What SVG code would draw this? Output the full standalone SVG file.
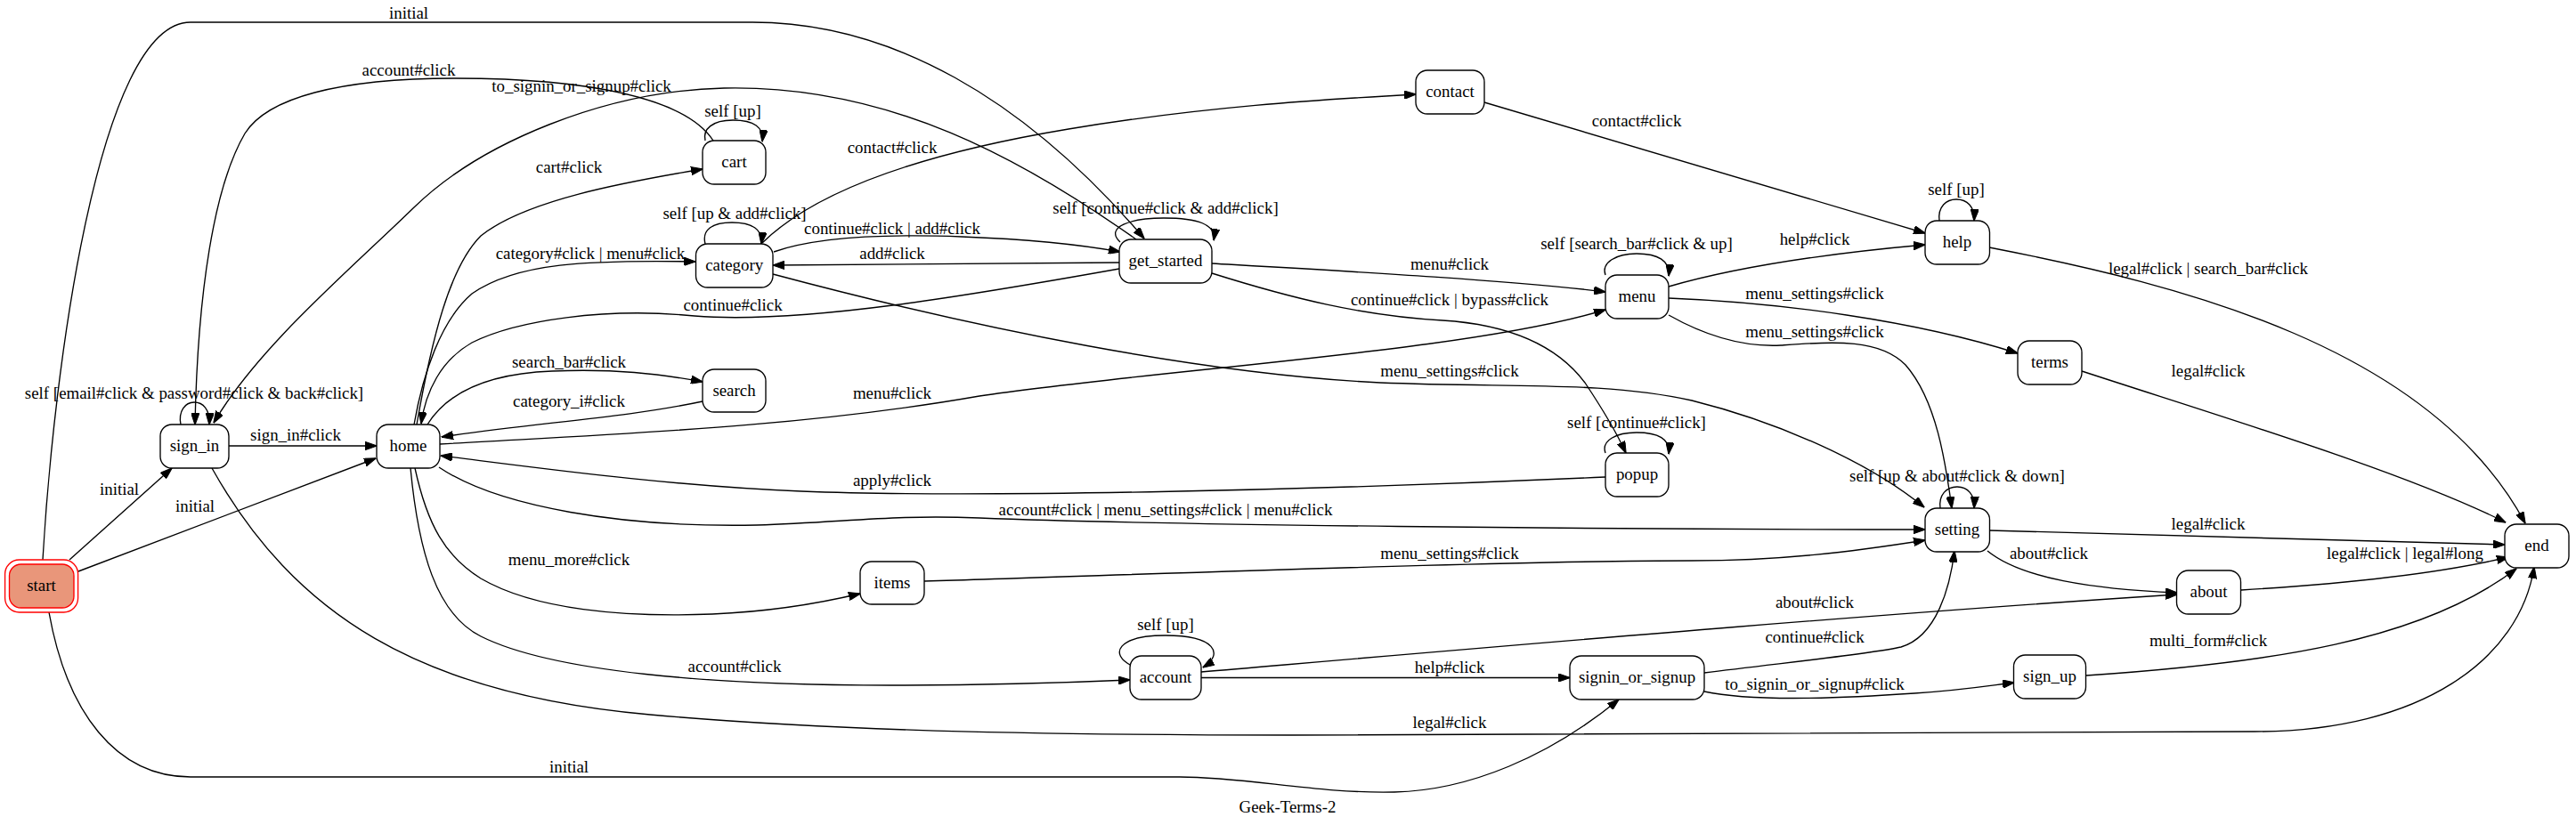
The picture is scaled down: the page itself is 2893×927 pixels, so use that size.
<svg xmlns="http://www.w3.org/2000/svg" width="2893" height="927" viewBox="0 0 2893 927">
<style>
text{font-family:"Liberation Serif","Times New Roman",serif;font-size:18.9px;text-anchor:middle;fill:#000}
.e{fill:none;stroke:#000;stroke-width:1.35;marker-end:url(#arr)}
.n{fill:#fff;stroke:#000;stroke-width:1.35}
</style>
<defs>
<marker id="arr" viewBox="0 0 13.5 9.4" refX="13" refY="4.7" markerWidth="13.5" markerHeight="9.4" markerUnits="userSpaceOnUse" orient="auto">
<path d="M0,0 L13.5,4.7 L0,9.4 z" fill="#000" stroke="#000" stroke-width="1"/>
</marker>
</defs>
<rect width="2893" height="927" fill="#fff"/>
<g id="connectors">
<g><path class="e" d="M78,629 L193,526"/><text x="134" y="556">initial</text></g>
<g><path class="e" d="M88,642 L422,515"/><text x="219" y="575">initial</text></g>
<g><path class="e" d="M48,629 C60,420 110,25 214,25 L845,25 C1000,25 1150,110 1285,268"/><text x="459" y="21">initial</text></g>
<g><path class="e" d="M55,688 C75,800 130,873 214,873 L1325,873 C1400,873 1480,892 1566,890 C1650,888 1740,850 1818,786"/><text x="639" y="868">initial</text></g>
<g><path class="e" d="M203,477 C200,462 208,452 218,452 C228,452 236,460 235,477"/><text x="218" y="448">self [email#click &amp; password#click &amp; back#click]</text></g>
<g><path class="e" d="M257,501 L423,501"/><text x="332" y="495">sign_in#click</text></g>
<g><path class="e" d="M238,526 C330,690 470,780 730,803 C900,818 1100,826 1450,826 L2532,822 C2720,822 2830,740 2846,637"/><text x="1628" y="818">legal#click</text></g>
<g><path class="e" d="M801,158 C770,110 660,88 512,88 C380,88 300,110 275,150 C240,210 222,330 219,477"/><text x="459" y="85">account#click</text></g>
<g><path class="e" d="M1276,269 C1150,180 1000,95 813,99 C680,102 540,160 465,233 C390,306 290,390 240,475"/><text x="653" y="103">to_signin_or_signup#click</text></g>
<g><path class="e" d="M468,477 C485,380 505,300 540,265 C590,225 700,205 789,190"/><text x="639" y="194">cart#click</text></g>
<g><path class="e" d="M465,477 C475,420 495,360 530,330 C580,295 660,292 781,294"/><text x="663" y="291">category#click | menu#click</text></g>
<g><path class="e" d="M1257,302 C1100,330 900,365 780,355 C680,345 580,360 530,385 C495,405 478,440 473,476"/><text x="823" y="349">continue#click</text></g>
<g><path class="e" d="M480,477 C500,445 540,420 620,417 C690,414 740,420 789,429"/><text x="639" y="413">search_bar#click</text></g>
<g><path class="e" d="M789,451 C700,470 600,475 496,491"/><text x="639" y="457">category_i#click</text></g>
<g><path class="e" d="M494,499 C700,487 900,480 1100,445 C1300,415 1650,395 1803,348"/><text x="1002" y="448">menu#click</text></g>
<g><path class="e" d="M1803,536 C1500,550 1100,560 900,552 C750,546 600,525 495,512"/><text x="1002" y="546">apply#click</text></g>
<g><path class="e" d="M493,525 C560,570 700,593 850,590 C950,587 1000,578 1100,582 C1300,590 1800,595 2162,595"/><text x="1309" y="579">account#click | menu_settings#click | menu#click</text></g>
<g><path class="e" d="M466,526 C480,590 500,625 540,650 C600,685 700,694 800,690 C870,687 920,678 966,667"/><text x="639" y="635">menu_more#click</text></g>
<g><path class="e" d="M461,526 C470,620 490,690 540,715 C620,755 800,770 1000,770 C1120,770 1200,767 1269,764"/><text x="825" y="755">account#click</text></g>
<g><path class="e" d="M792,274 C788,258 800,250 822,250 C845,250 857,258 855,274"/><text x="825" y="246">self [up &amp; add#click]</text></g>
<g><path class="e" d="M856,273 C920,210 1050,170 1200,145 C1350,120 1480,112 1590,106"/><text x="1002" y="172">contact#click</text></g>
<g><path class="e" d="M869,283 C920,265 1000,263 1080,266 C1160,269 1220,276 1258,283"/><text x="1002" y="263">continue#click | add#click</text></g>
<g><path class="e" d="M1257,295 L868,298"/><text x="1002" y="291">add#click</text></g>
<g><path class="e" d="M868,308 C1100,370 1350,420 1550,430 C1700,436 1800,428 1900,450 C2000,475 2100,520 2161,570"/><text x="1628" y="423">menu_settings#click</text></g>
<g><path class="e" d="M1361,296 C1500,304 1700,315 1803,328"/><text x="1628" y="303">menu#click</text></g>
<g><path class="e" d="M1361,307 C1450,335 1530,355 1620,360 C1700,365 1750,390 1780,430 C1800,460 1815,485 1826,509"/><text x="1628" y="343">continue#click | bypass#click</text></g>
<g><path class="e" d="M1258,272 C1240,255 1270,245 1307,245 C1345,245 1366,252 1363,270"/><text x="1309" y="240">self [continue#click &amp; add#click]</text></g>
<g><path class="e" d="M1667,115 L2162,262"/><text x="1838" y="142">contact#click</text></g>
<g><path class="e" d="M1874,322 C1950,300 2050,285 2162,275"/><text x="2038" y="275">help#click</text></g>
<g><path class="e" d="M1874,335 C2000,340 2150,360 2266,397"/><text x="2038" y="336">menu_settings#click</text></g>
<g><path class="e" d="M1874,354 C1920,380 1960,390 2000,388 C2060,384 2110,380 2140,410 C2175,450 2185,520 2192,571"/><text x="2038" y="379">menu_settings#click</text></g>
<g><path class="e" d="M1803,309 C1798,295 1815,285 1838,285 C1862,285 1876,293 1874,310"/><text x="1838" y="280">self [search_bar#click &amp; up]</text></g>
<g><path class="e" d="M2178,248 C2176,232 2186,224 2197,224 C2209,224 2218,232 2217,248"/><text x="2197" y="219">self [up]</text></g>
<g><path class="e" d="M2234,278 C2450,320 2730,390 2836,588"/><text x="2480" y="308">legal#click | search_bar#click</text></g>
<g><path class="e" d="M2338,417 C2500,470 2700,530 2814,587"/><text x="2480" y="423">legal#click</text></g>
<g><path class="e" d="M1803,509 C1798,495 1815,486 1838,486 C1862,486 1876,493 1874,510"/><text x="1838" y="481">self [continue#click]</text></g>
<g><path class="e" d="M2179,571 C2177,556 2186,547 2198,547 C2210,547 2218,556 2217,571"/><text x="2198" y="541">self [up &amp; about#click &amp; down]</text></g>
<g><path class="e" d="M1038,653 C1300,645 1700,630 1900,630 C2000,630 2080,620 2162,607"/><text x="1628" y="628">menu_settings#click</text></g>
<g><path class="e" d="M2234,596 C2500,604 2700,610 2813,612"/><text x="2480" y="595">legal#click</text></g>
<g><path class="e" d="M2232,619 C2270,650 2350,662 2445,666"/><text x="2301" y="628">about#click</text></g>
<g><path class="e" d="M1349,755 C1700,725 2100,690 2445,668"/><text x="2038" y="683">about#click</text></g>
<g><path class="e" d="M2517,663 C2650,655 2750,642 2817,626"/><text x="2701" y="628">legal#click | legal#long</text></g>
<g><path class="e" d="M1914,756 C2000,745 2100,735 2135,727 C2175,715 2190,660 2195,619"/><text x="2038" y="722">continue#click</text></g>
<g><path class="e" d="M1914,777 C1960,787 2050,786 2150,779 C2200,776 2230,771 2262,767"/><text x="2038" y="775">to_signin_or_signup#click</text></g>
<g><path class="e" d="M2343,759 C2550,745 2720,720 2826,639"/><text x="2480" y="726">multi_form#click</text></g>
<g><path class="e" d="M1349,761.5 L1763,761.5"/><text x="1628" y="756">help#click</text></g>
<g><path class="e" d="M1271,748 C1245,735 1255,714 1309,714 C1365,714 1375,735 1351,750"/><text x="1309" y="708">self [up]</text></g>
<g><path class="e" d="M792,158 C789,145 800,135 823,135 C847,135 858,143 856,159"/><text x="823" y="131">self [up]</text></g>
</g>
<g id="node-start"><rect x="5.6" y="629" width="82" height="59" rx="16" fill="none" stroke="#f00" stroke-width="1.35"/><rect x="10.5" y="634" width="72.5" height="49" rx="13" fill="#e9967a" stroke="#f00" stroke-width="1.35"/><text x="46.5" y="664">start</text></g>
<g id="node-sign_in"><rect class="n" x="180" y="477" width="77" height="49" rx="13"/><text x="218.5" y="507">sign_in</text></g>
<g id="node-home"><rect class="n" x="423" y="477" width="71" height="49" rx="13"/><text x="458.5" y="507">home</text></g>
<g id="node-cart"><rect class="n" x="789" y="158" width="71" height="49" rx="13"/><text x="824.5" y="188">cart</text></g>
<g id="node-category"><rect class="n" x="781.5" y="274" width="86.5" height="49" rx="13"/><text x="824.7" y="304">category</text></g>
<g id="node-get_started"><rect class="n" x="1257" y="269" width="104" height="49" rx="13"/><text x="1309" y="299">get_started</text></g>
<g id="node-search"><rect class="n" x="789" y="415" width="71" height="48" rx="13"/><text x="824.5" y="445">search</text></g>
<g id="node-contact"><rect class="n" x="1590" y="79" width="77" height="49" rx="13"/><text x="1628.5" y="109">contact</text></g>
<g id="node-menu"><rect class="n" x="1803" y="309" width="71" height="49" rx="13"/><text x="1838.5" y="339">menu</text></g>
<g id="node-help"><rect class="n" x="2162" y="248" width="72.5" height="49" rx="13"/><text x="2198" y="278">help</text></g>
<g id="node-terms"><rect class="n" x="2266" y="383" width="72" height="49" rx="13"/><text x="2302" y="413">terms</text></g>
<g id="node-items"><rect class="n" x="966" y="631" width="72" height="48" rx="13"/><text x="1002" y="661">items</text></g>
<g id="node-account"><rect class="n" x="1269" y="737" width="80" height="49" rx="13"/><text x="1309" y="767">account</text></g>
<g id="node-popup"><rect class="n" x="1803" y="509" width="71" height="49" rx="13"/><text x="1838.5" y="539">popup</text></g>
<g id="node-signin_or_signup"><rect class="n" x="1763" y="737" width="151" height="49" rx="13"/><text x="1838.5" y="767">signin_or_signup</text></g>
<g id="node-setting"><rect class="n" x="2162" y="571" width="72.5" height="49" rx="13"/><text x="2198" y="601">setting</text></g>
<g id="node-about"><rect class="n" x="2444.5" y="641" width="72" height="49" rx="13"/><text x="2480.5" y="671">about</text></g>
<g id="node-end"><rect class="n" x="2813" y="589" width="72" height="49" rx="13"/><text x="2849" y="619">end</text></g>
<g id="node-sign_up"><rect class="n" x="2261.5" y="736" width="81" height="49" rx="13"/><text x="2302" y="766">sign_up</text></g>
<text x="1446" y="913">Geek-Terms-2</text>
</svg>
